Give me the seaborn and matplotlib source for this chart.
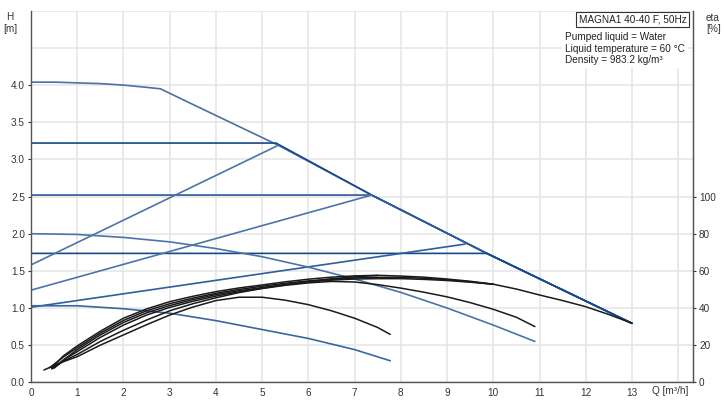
import numpy as np
import pandas as pd
import matplotlib
matplotlib.use("Agg")
import matplotlib.pyplot as plt
import seaborn as sns

sns.set_style("white")
plt.rcParams['font.family'] = ['Liberation Sans', 'DejaVu Sans']

# ---------------- data: head curves H [m] vs Q [m3/h] ----------------
q_max = [0, 0.5, 1, 1.5, 2, 2.5, 2.8, 3.5, 5.35, 7.37, 9.86, 13]
h_max = [4.04, 4.04, 4.03, 4.02, 4.0, 3.97, 3.95, 3.74, 3.19, 2.52, 1.735, 0.794]

q_cp1 = [0, 5.3, 7.37, 9.86, 13]
h_cp1 = [3.22, 3.22, 2.52, 1.735, 0.794]
q_cp2 = [0, 7.37, 9.86, 13]
h_cp2 = [2.52, 2.52, 1.735, 0.794]
q_cp3 = [0, 9.86, 13]
h_cp3 = [1.735, 1.735, 0.794]

q_pp1 = [0, 5.35]
h_pp1 = [1.58, 3.19]
q_pp2 = [0, 7.37]
h_pp2 = [1.24, 2.52]
q_pp3 = [0, 9.39]
h_pp3 = [1.01, 1.86]

q_fs2 = [0, 1, 2, 3, 4, 5, 6, 7, 8, 9, 10, 10.9]
h_fs2 = [2.0, 1.99, 1.95, 1.89, 1.80, 1.69, 1.55, 1.39, 1.21, 1.0, 0.77, 0.55]
q_fs1 = [0, 1, 2, 3, 4, 5, 6, 7, 7.77]
h_fs1 = [1.03, 1.03, 0.99, 0.93, 0.83, 0.71, 0.59, 0.44, 0.29]

# ---------------- data: efficiency curves eta [%] ----------------
q_e1 = [0.45, 0.7, 1, 1.5, 2, 2.5, 3, 3.5, 4, 4.5, 5, 5.5, 6, 6.5, 7, 7.5, 8, 8.5, 9,
        9.5, 10, 10.5, 11, 11.5, 12, 12.5, 13]
e_e1 = [8.0, 14.2, 19.6, 27.5, 34.5, 39.5, 43.4, 46.3, 48.8, 50.8, 52.4, 54.1, 55.5, 56.6,
        57.3, 57.6, 57.2, 56.6, 55.6, 54.4, 52.8, 50.2, 47.0, 44.0, 40.7, 36.5, 31.8]
q_e2 = [0.4, 0.7, 1, 1.5, 2, 2.5, 3, 3.5, 4, 4.5, 5, 5.5, 6, 6.5, 7, 7.5, 8, 8.5, 9, 9.5, 10]
e_e2 = [7.8, 13.6, 18.6, 26.5, 33.3, 38.5, 42.3, 45.3, 47.9, 50.0, 51.7, 53.3, 54.6, 55.5,
        56.2, 56.5, 56.5, 56.0, 55.2, 54.1, 52.8]
q_e3 = [0.5, 0.75, 1, 1.5, 2, 2.5, 3, 3.5, 4, 4.5, 5, 5.5, 6, 6.5, 7, 7.5, 8, 8.5, 9, 9.5, 10]
e_e3 = [7.6, 12.9, 17.6, 25.5, 32.2, 37.4, 41.3, 44.5, 47.2, 49.3, 51.0, 52.7, 54.0, 55.0,
        55.6, 55.8, 55.8, 55.4, 54.8, 53.9, 52.8]
q_e4 = [0.45, 0.7, 1, 1.5, 2, 2.5, 3, 3.5, 4, 4.5, 5, 5.5, 6, 6.5, 7, 7.5]
e_e4 = [7.4, 12.0, 16.5, 24.2, 30.8, 36.2, 40.3, 43.6, 46.4, 48.7, 50.6, 52.5, 54.2, 55.7,
        56.8, 57.5]
q_ef2 = [0.45, 0.7, 1, 1.5, 2, 2.5, 3, 3.5, 4, 4.5, 5, 5.5, 6, 6.5, 7, 7.5, 8, 8.5, 9,
         9.5, 10, 10.5, 10.9]
e_ef2 = [7.2, 11.3, 15.0, 22.0, 28.0, 33.5, 38.5, 42.3, 45.5, 48.3, 50.5, 52.2, 53.5, 54.3,
         54.0, 52.6, 50.7, 48.5, 46.0, 42.9, 39.3, 35.0, 30.0]
q_ef1 = [0.28, 0.6, 1, 1.5, 2, 2.5, 3, 3.5, 4, 4.5, 5, 5.5, 6, 6.5, 7, 7.5, 7.77]
e_ef1 = [6.6, 10.2, 13.8, 20.0, 25.5, 31.0, 36.2, 40.5, 44.0, 45.8, 45.8, 44.2, 41.8, 38.5,
         34.5, 29.5, 25.8]

x_ticks = list(range(0, 14))
y_ticks = [0.0, 0.5, 1.0, 1.5, 2.0, 2.5, 3.0, 3.5, 4.0]
eta_ticks = [0, 20, 40, 60, 80, 100]

# ---------------- build tables ----------------
head_curves = {
    "max": (q_max, h_max), "cp1": (q_cp1, h_cp1), "cp2": (q_cp2, h_cp2), "cp3": (q_cp3, h_cp3),
    "pp1": (q_pp1, h_pp1), "pp2": (q_pp2, h_pp2), "pp3": (q_pp3, h_pp3),
    "fs2": (q_fs2, h_fs2), "fs1": (q_fs1, h_fs1),
}
head_df = pd.concat([pd.DataFrame({"curve": k, "Q": v[0], "H": v[1]}) for k, v in head_curves.items()],
                    ignore_index=True)
head_pal = {"max": "#4a70a6", "cp1": "#15488a", "cp2": "#2a5a98", "cp3": "#15488a",
            "pp1": "#4c74a9", "pp2": "#4c74a9", "pp3": "#2f5e9b",
            "fs2": "#4c74a9", "fs1": "#3b66a0"}

eff_curves = {"e1": (q_e1, e_e1), "e2": (q_e2, e_e2), "e3": (q_e3, e_e3), "e4": (q_e4, e_e4),
              "ef2": (q_ef2, e_ef2), "ef1": (q_ef1, e_ef1)}
eff_df = pd.concat([pd.DataFrame({"curve": k, "Q": v[0], "eta": v[1]}) for k, v in eff_curves.items()],
                   ignore_index=True)
eff_pal = {k: "#1a1a1a" for k in eff_curves}

# ---------------- figure ----------------
W, Hpx = 724, 400
fig = plt.figure(figsize=(W / 100, Hpx / 100), dpi=100)
x0, x1, ytop, ybot = 31, 693, 10.8, 382.3
ax = fig.add_axes([x0 / W, 1 - ybot / Hpx, (x1 - x0) / W, (ybot - ytop) / Hpx])

sns.lineplot(data=head_df, x="Q", y="H", hue="curve", palette=head_pal, estimator=None,
             legend=False, linewidth=1.2, ax=ax)

ax.set_xlim(0, 14.32)
ax.set_ylim(0, 5.0)
ax.set_xticks(x_ticks)
ax.set_xticks([14], minor=True)
ax.set_yticks(y_ticks)
ax.set_yticks([4.5, 5.0], minor=True)
ax.set_yticklabels([f"{v:.1f}" for v in y_ticks])
ax.set_xlabel("")
ax.set_ylabel("")
ax.grid(True, which="both", color="#e6e6e6", linewidth=1.2)
ax.set_axisbelow(True)
ax.tick_params(axis="both", which="major", labelsize=7.2, length=2.5, width=0.8,
               colors="#333333", pad=1.8)
ax.tick_params(axis="both", which="minor", length=0)
ax.spines["top"].set_visible(False)
for s in ["left", "bottom", "right"]:
    ax.spines[s].set_color("#555555")
    ax.spines[s].set_linewidth(1.0)

ax2 = ax.twinx()
sns.lineplot(data=eff_df, x="Q", y="eta", hue="curve", palette=eff_pal, estimator=None,
             legend=False, linewidth=1.1, ax=ax2)
ax2.set_ylim(0, 200)
ax2.set_yticks(eta_ticks)
ax2.set_ylabel("")
ax2.tick_params(axis="y", labelsize=7.2, length=2.5, width=0.8, colors="#333333", pad=1.8)
ax2.spines["top"].set_visible(False)
ax2.spines["right"].set_color("#555555")
ax2.spines["left"].set_visible(False)
ax2.spines["bottom"].set_visible(False)
ax2.grid(False)

# axis titles
fig.text(10 / W, 1 - 17 / Hpx, "H", ha="center", va="center", fontsize=7.2, color="#333333")
fig.text(10 / W, 1 - 29 / Hpx, "[m]", ha="center", va="center", fontsize=7.2, color="#333333")
fig.text(706 / W, 1 - 18 / Hpx, "eta", ha="left", va="center", fontsize=7.2, color="#333333")
fig.text(706 / W, 1 - 29 / Hpx, "[%]", ha="left", va="center", fontsize=7.2, color="#333333")
fig.text(652 / W, 1 - 391 / Hpx, "Q [m³/h]", ha="left", va="center", fontsize=7.2, color="#333333")

# info boxes
fig.text(632.5 / W, 1 - 19 / Hpx, "MAGNA1 40-40 F, 50Hz", ha="center", va="center",
         fontsize=7.2, color="#222222", zorder=10,
         bbox=dict(facecolor="white", edgecolor="#333333", linewidth=0.8, boxstyle="square,pad=0.25"))
fig.text(565 / W, 1 - 48.5 / Hpx,
         "Pumped liquid = Water\nLiquid temperature = 60 °C\nDensity = 983.2 kg/m³",
         ha="left", va="center", fontsize=7.2, color="#222222", linespacing=1.2, zorder=10,
         bbox=dict(facecolor="white", edgecolor="none", boxstyle="square,pad=0.3"))

fig.savefig("out.png", dpi=100)
